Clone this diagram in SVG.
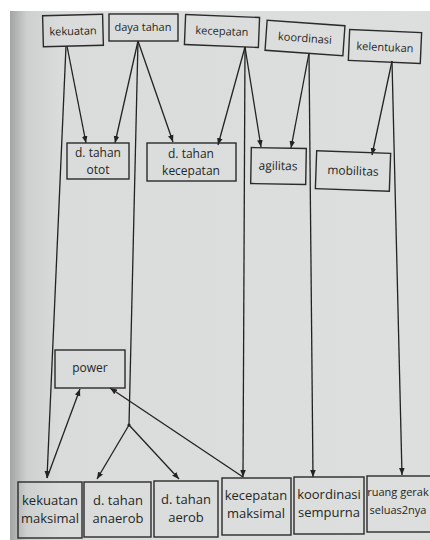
<svg xmlns="http://www.w3.org/2000/svg" width="430" height="540" viewBox="0 0 430 540">
<defs>
<linearGradient id="pg" x1="0" y1="0" x2="1" y2="0" gradientUnits="objectBoundingBox">
<stop offset="0" stop-color="#a2a5a4"/>
<stop offset="0.04" stop-color="#cdd0ce"/>
<stop offset="0.12" stop-color="#d9dcda"/>
<stop offset="1" stop-color="#dcdfdd"/>
</linearGradient>
<marker id="ah" viewBox="0 0 10 10" refX="10" refY="5" markerWidth="7" markerHeight="7" orient="auto" markerUnits="userSpaceOnUse">
<path d="M0,1 L10,5 L0,9 Z" fill="#222"/>
</marker>
</defs>
<style>
.b{fill:none;stroke:#2a2a2a;stroke-width:1.4}
.t{font-family:"Open Sans","Noto Sans","DejaVu Sans",sans-serif;fill:#262626;text-anchor:middle}
.s{font-size:11px}
.m{font-size:12px}
.l{font-size:13px}
.c{stroke:#222;stroke-width:1.3;fill:none}
.a{marker-end:url(#ah)}
</style>
<rect width="430" height="540" fill="#ffffff"/>
<rect x="10" y="11" width="420" height="529" fill="url(#pg)"/>

<g id="connectors">
<line class="c a" x1="66" y1="46" x2="47" y2="478"/>
<line class="c a" x1="67" y1="46" x2="86" y2="143"/>
<line class="c a" x1="138" y1="41" x2="115" y2="143"/>
<line class="c a" x1="138" y1="41" x2="173" y2="142"/>
<line class="c" x1="138" y1="41" x2="129" y2="425"/>
<line class="c a" x1="245" y1="47" x2="218" y2="145"/>
<line class="c a" x1="245" y1="47" x2="243" y2="477"/>
<line class="c a" x1="245" y1="47" x2="261" y2="147"/>
<line class="c a" x1="309" y1="53" x2="291" y2="148"/>
<line class="c a" x1="309" y1="53" x2="313" y2="477"/>
<line class="c a" x1="392" y1="61" x2="372" y2="155"/>
<line class="c a" x1="392" y1="61" x2="402" y2="475"/>
<line class="c a" x1="47" y1="478" x2="80" y2="389"/>
<line class="c a" x1="243" y1="477" x2="110" y2="388"/>
<line class="c a" x1="129" y1="425" x2="97" y2="479"/>
<line class="c a" x1="129" y1="425" x2="179" y2="479"/>
<circle cx="129" cy="425" r="1.6" fill="#222"/>
</g>

<g id="n-kekuatan" transform="rotate(-1.5 73 31)">
<rect class="b" x="43" y="15" width="60" height="31"/>
<text class="t s" x="73" y="35">kekuatan</text>
</g>
<g id="n-dayatahan">
<rect class="b" x="109" y="14" width="69" height="27"/>
<text class="t s" x="143" y="31">daya tahan</text>
</g>
<g id="n-kecepatan" transform="rotate(2.3 222 31)">
<rect class="b" x="185" y="16" width="74" height="30"/>
<text class="t s" x="222" y="35">kecepatan</text>
</g>
<g id="n-koordinasi" transform="rotate(4 305 38)">
<rect class="b" x="266" y="23" width="78" height="30"/>
<text class="t s" x="305" y="42">koordinasi</text>
</g>
<g id="n-kelentukan" transform="rotate(2.5 385 46)">
<rect class="b" x="349" y="31" width="72" height="31"/>
<text class="t s" x="385" y="51">kelentukan</text>
</g>

<g id="n-dtahanotot">
<rect class="b" x="67" y="143" width="62" height="36"/>
<text class="t m" x="98" y="157">d. tahan</text>
<text class="t m" x="98" y="174">otot</text>
</g>
<g id="n-dtahankecepatan">
<rect class="b" x="147" y="143" width="89" height="38"/>
<text class="t m" x="191" y="158">d. tahan</text>
<text class="t m" x="191" y="175">kecepatan</text>
</g>
<g id="n-agilitas" transform="rotate(1 278 166)">
<rect class="b" x="251" y="148" width="55" height="36"/>
<text class="t m" x="278" y="170">agilitas</text>
</g>
<g id="n-mobilitas" transform="rotate(2 353 171)">
<rect class="b" x="316" y="152" width="74" height="38"/>
<text class="t m" x="353" y="175">mobilitas</text>
</g>

<g id="n-power">
<rect class="b" x="55" y="350" width="70" height="38"/>
<text class="t m" x="90" y="372">power</text>
</g>

<g id="n-kekuatanmaksimal">
<rect class="b" x="18" y="482" width="64" height="56"/>
<text class="t l" x="50" y="505">kekuatan</text>
<text class="t l" x="50" y="523">maksimal</text>
</g>
<g id="n-dtahananaerob">
<rect class="b" x="84" y="482" width="67" height="55"/>
<text class="t l" x="118" y="505">d. tahan</text>
<text class="t l" x="118" y="523">anaerob</text>
</g>
<g id="n-dtahanaerob">
<rect class="b" x="154" y="481" width="64" height="56"/>
<text class="t l" x="186" y="504">d. tahan</text>
<text class="t l" x="186" y="522">aerob</text>
</g>
<g id="n-kecepatanmaksimal">
<rect class="b" x="222" y="478" width="69" height="57"/>
<text class="t l" x="256" y="500">kecepatan</text>
<text class="t l" x="256" y="518">maksimal</text>
</g>
<g id="n-koordinasisempurna">
<rect class="b" x="294" y="477" width="70" height="57"/>
<text class="t l" x="329" y="499">koordinasi</text>
<text class="t l" x="329" y="517">sempurna</text>
</g>
<g id="n-ruanggerak">
<rect class="b" x="367" y="476" width="70" height="56"/>
<text class="t" x="398" y="496" style="font-size:11px">ruang gerak</text>
<text class="t" x="398" y="514" style="font-size:11px">seluas2nya</text>
</g>
</svg>
